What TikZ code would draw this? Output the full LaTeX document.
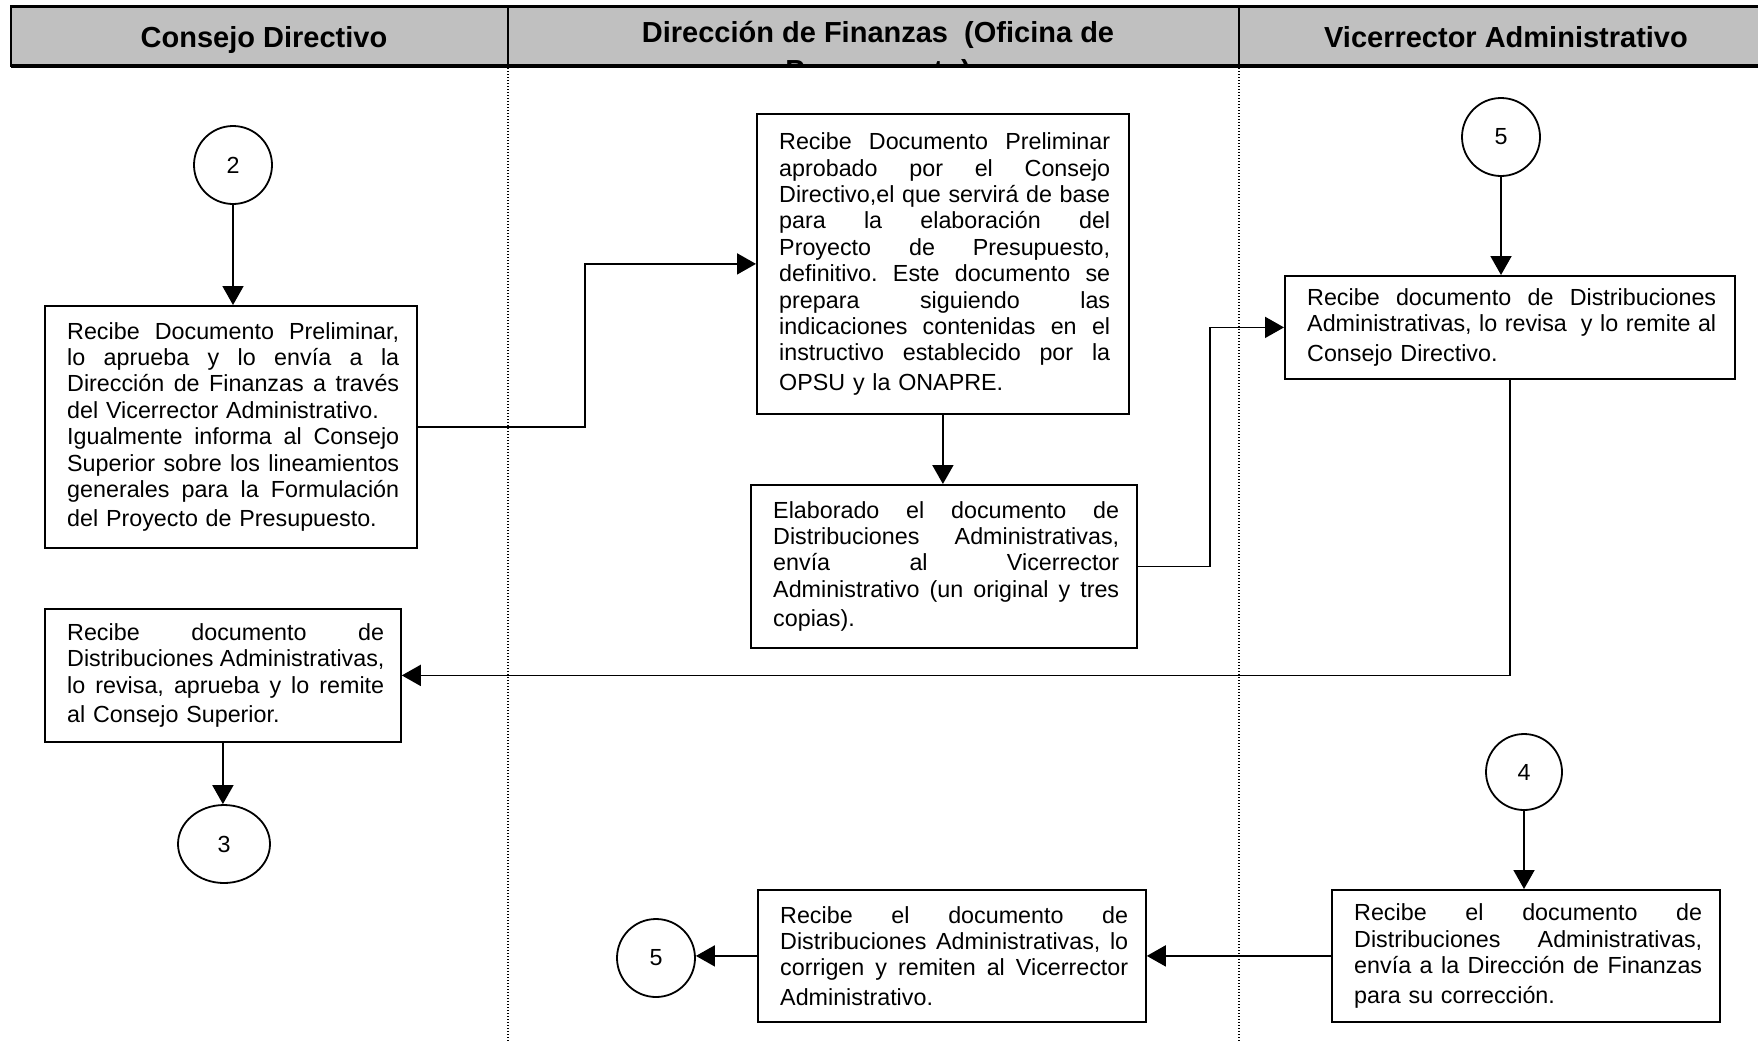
\documentclass[tikz,border=0pt]{standalone}
\usepackage{fontspec}
\setmainfont{Liberation Sans}
\usetikzlibrary{arrows.meta,shapes.geometric}
\definecolor{hdrgray}{RGB}{192,192,192}
\frenchspacing
% one justified line of a box text, and the same with a little extra gap after it
\newcommand\jl[1]{\makebox[\hsize][s]{\spaceskip=0.278em plus 1fil\xspaceskip=\spaceskip #1}\\}
\newcommand\jlx[1]{\makebox[\hsize][s]{\spaceskip=0.278em plus 1fil\xspaceskip=\spaceskip #1}\\[3pt]}

\begin{document}
\begin{tikzpicture}[x=1pt,y=-1pt,
  box/.style={draw, line width=1.8pt, rectangle, inner sep=0pt, anchor=north west},
  txt/.style={inner sep=0pt, anchor=west, align=left, font=\fontsize{23.3}{26.4}\selectfont},
  conn/.style={circle, draw, line width=1.8pt, minimum size=78pt, inner sep=0pt, font=\fontsize{23.3}{26.4}\selectfont},
  flow/.style={line width=1.8pt, -{Triangle[length=19pt,width=21pt]}},
  lane/.style={line width=1.3pt, dash pattern=on 1.3pt off 1.7pt},
  head/.style={font=\fontsize{29}{33}\selectfont\bfseries, inner sep=0pt, anchor=base}
]
\useasboundingbox (0,0) rectangle (1758,1042);
\fill[white] (0,0) rectangle (1758,1042);

% ---- swimlane header ----
\begin{scope}
  \clip (11,6) rectangle (1770,65);
  \fill[hdrgray] (11,6) rectangle (1770,66);
  \node[head] (h1) at (264,47) {Consejo Directivo};
  \node[head] (h2) at (878,42) {Dirección de Finanzas~ (Oficina de};
  \node[head] (h2b) at (878,80) {Presupuesto)};
  \node[head] (h3) at (1506,47) {Vicerrector Administrativo};
\end{scope}
\draw[line width=3pt] (11,6) -- (1770,6);
\draw[line width=4pt] (11,66) -- (1770,66);
\draw[line width=2pt] (11,5) -- (11,67);
\draw[line width=1.5pt] (508,6) -- (508,66);
\draw[line width=1.5pt] (1239,6) -- (1239,66);

% ---- lane separators ----
\draw[lane] (508,68) -- (508,1042);
\draw[lane] (1239,68) -- (1239,1042);

% ---- Consejo Directivo ----
\node[conn] (c2) at (233,165) {2};
\node[box, minimum width=372pt, minimum height=242pt] (b1) at (44,305) {};
\node[txt, text width=332pt] (b1t) at ([xshift=23pt]b1.west) {%
\jl{Recibe Documento Preliminar,}
\jl{lo aprueba y lo envía a la}
\jl{Dirección de Finanzas a través}
del Vicerrector Administrativo.\\
\jl{Igualmente informa al Consejo}
\jl{Superior sobre los lineamientos}
\jlx{generales para la Formulación}
del Proyecto de Presupuesto.};

\node[box, minimum width=356pt, minimum height=133pt] (b5) at (44,608) {};
\node[txt, text width=317pt] (b5t) at ([xshift=23pt]b5.west) {%
\jl{Recibe documento de}
\jl{Distribuciones Administrativas,}
\jlx{lo revisa, aprueba y lo remite}
al Consejo Superior.};

\node[draw, ellipse, line width=1.8pt, minimum width=92pt, minimum height=78pt, inner sep=0pt,
      font=\fontsize{23.3}{26.4}\selectfont] (c3) at (224,844) {3};

% ---- Dirección de Finanzas ----
\node[box, minimum width=372pt, minimum height=300pt] (b2) at (756,113) {};
\node[txt, text width=331pt] (b2t) at ([xshift=23pt]b2.west) {%
\jl{Recibe Documento Preliminar}
\jl{aprobado por el Consejo}
\jl{Directivo,el que servirá de base}
\jl{para la elaboración del}
\jl{Proyecto de Presupuesto,}
\jl{definitivo. Este documento se}
\jl{prepara siguiendo las}
\jl{indicaciones contenidas en el}
\jlx{instructivo establecido por la}
OPSU y la ONAPRE.};

\node[box, minimum width=386pt, minimum height=163pt] (b3) at (750,484) {};
\node[txt, text width=346pt] (b3t) at ([xshift=23pt]b3.west) {%
\jl{Elaborado el documento de}
\jl{Distribuciones Administrativas,}
\jl{envía al Vicerrector}
\jlx{Administrativo (un original y tres}
copias).};

\node[box, minimum width=388pt, minimum height=132pt] (b7) at (757,889) {};
\node[txt, text width=348pt] (b7t) at ([xshift=23pt]b7.west) {%
\jl{Recibe el documento de}
\jl{Distribuciones Administrativas, lo}
\jlx{corrigen y remiten al Vicerrector}
Administrativo.};

\node[conn] (c5b) at (656,958) {5};

% ---- Vicerrector Administrativo ----
\node[conn] (c5a) at (1501,137) {5};
\node[box, minimum width=450pt, minimum height=103pt] (b4) at (1284,275) {};
\node[txt, text width=409pt] (b4t) at ([xshift=23pt]b4.west) {%
\jl{Recibe documento de Distribuciones}
\jlx{Administrativas, lo revisa\hspace{0.278em} y lo remite al}
Consejo Directivo.};

\node[conn, minimum size=76pt] (c4) at (1524,772) {4};
\node[box, minimum width=388pt, minimum height=132pt] (b6) at (1331,889) {};
\node[txt, text width=348pt] (b6t) at ([xshift=23pt]b6.west) {%
\jl{Recibe el documento de}
\jl{Distribuciones Administrativas,}
\jlx{envía a la Dirección de Finanzas}
para su corrección.};

% ---- connectors ----
\coordinate (k1) at (585,0);
\coordinate (k2) at (1210,0);
\draw[flow] (c2.south) -- (c2.south |- b1.north);
\draw[flow] (b1.east) -- (b1.east -| k1) |- (b2.west);
\draw[flow] (b2.south) -- (b2.south |- b3.north);
\draw[flow] (b3.east) -- (b3.east -| k2) |- (b4.west);
\draw[flow] (c5a.south) -- (c5a.south |- b4.north);
\draw[flow] (b4.south) |- (b5.east);
\draw[flow] (b5.south) -- (b5.south |- c3.north);
\draw[flow] (c4.south) -- (c4.south |- b6.north);
\draw[flow] (b6.west) -- (b7.east);
\draw[flow] (b7.west) -- (b7.west -| c5b.east);
\end{tikzpicture}
\end{document}
